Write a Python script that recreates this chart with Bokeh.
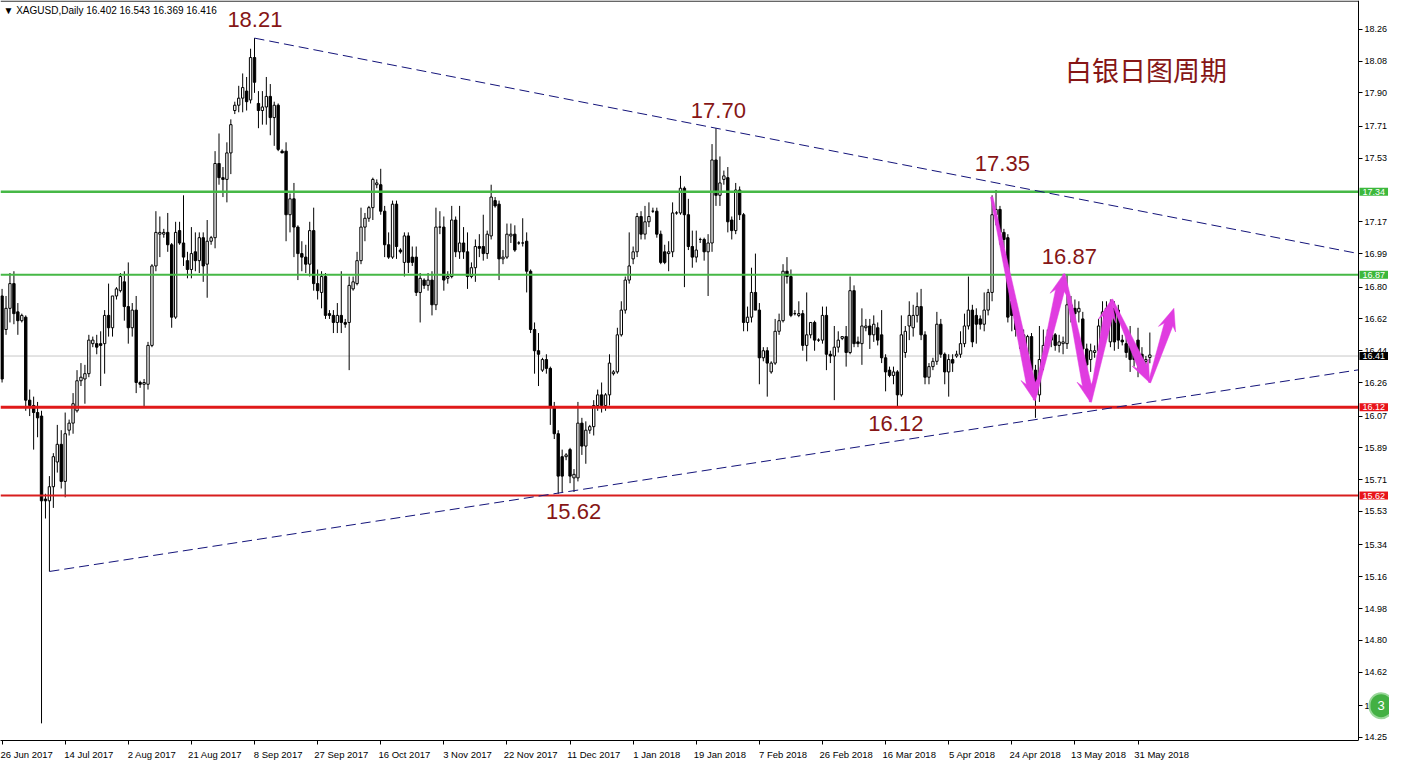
import math
from bokeh.plotting import figure
from bokeh.models import (Range1d, FixedTicker, Label, ColumnDataSource,
                          PrintfTickFormatter, LinearAxis)
from bokeh.core.properties import value
from bokeh.embed import file_html
from bokeh.resources import INLINE

# ---------------- data (XAGUSD daily candles) ----------------
opens = [
    16.75, 16.56, 16.68, 16.82, 16.66, 16.61, 16.63, 16.16, 16.13, 16.09,
    16.07, 15.60, 15.59, 15.67, 15.81, 15.91, 15.70, 15.99, 16.03, 16.10,
    16.27, 16.28, 16.31, 16.48, 16.48, 16.48, 16.48, 16.64, 16.57, 16.75,
    16.78, 16.83, 16.69, 16.57, 16.67, 16.26, 16.25, 16.25, 16.47, 16.92,
    17.10, 17.10, 17.11, 17.04, 16.63, 17.12, 17.05, 16.95, 16.90, 17.00,
    16.95, 17.08, 16.93, 17.06, 17.08, 17.50, 17.42, 17.41, 17.56, 17.80,
    17.83, 17.87, 17.91, 17.86, 18.10, 17.84, 17.80, 17.82, 17.88, 17.76,
    17.83, 17.57, 17.57, 17.21, 17.30, 17.14, 16.99, 16.97, 16.93, 17.12,
    16.82, 16.77, 16.86, 16.65, 16.64, 16.60, 16.64, 16.60, 16.60, 16.79,
    16.82, 16.95, 17.14, 17.19, 17.25, 17.38, 17.38, 17.23, 17.04, 16.97,
    17.27, 17.01, 16.94, 17.09, 16.97, 16.97, 16.77, 16.84, 16.81, 16.84,
    16.70, 17.14, 17.14, 16.85, 16.86, 17.18, 17.00, 17.05, 17.00, 16.86,
    16.91, 17.03, 17.03, 16.99, 17.09, 17.29, 17.27, 16.96, 16.97, 17.09,
    17.10, 17.05, 17.05, 17.06, 16.89, 16.56, 16.44, 16.33, 16.39, 16.34,
    16.12, 15.97, 15.84, 15.84, 15.88, 15.72, 15.72, 16.03, 15.90, 15.99,
    16.01, 16.13, 16.19, 16.13, 16.19, 16.31, 16.32, 16.53, 16.67, 16.84,
    16.96, 17.00, 17.20, 17.10, 17.17, 17.23, 17.23, 17.10, 17.00, 16.99,
    17.00, 17.22, 17.22, 17.36, 17.21, 17.03, 16.97, 17.07, 17.07, 17.00,
    17.05, 17.52, 17.32, 17.41, 17.42, 17.18, 17.12, 17.35, 17.21, 16.60,
    16.63, 16.77, 16.67, 16.40, 16.44, 16.32, 16.37, 16.55, 16.61, 16.89,
    16.86, 16.65, 16.64, 16.65, 16.47, 16.53, 16.60, 16.50, 16.50, 16.64,
    16.42, 16.41, 16.46, 16.51, 16.52, 16.43, 16.78, 16.49, 16.48, 16.57,
    16.58, 16.53, 16.57, 16.53, 16.40, 16.33, 16.30, 16.32, 16.19, 16.43,
    16.58, 16.57, 16.64, 16.69, 16.53, 16.29, 16.35, 16.38, 16.59, 16.42,
    16.32, 16.39, 16.41, 16.42, 16.48, 16.58, 16.67, 16.64, 16.62, 16.59,
    16.67, 16.77, 17.21, 17.24, 17.11, 17.08, 16.72, 16.64, 16.56, 16.53,
    16.42, 16.52, 16.33, 16.19, 16.39, 16.47, 16.50, 16.53, 16.47, 16.48,
    16.48, 16.70, 16.68, 16.66, 16.62, 16.45, 16.39, 16.43, 16.44, 16.54,
    16.68, 16.49, 16.68, 16.67, 16.50, 16.48, 16.47, 16.44, 16.50, 16.42,
    16.38, 16.402,
]
highs = [
    16.79, 16.75, 16.88, 16.89, 16.71, 16.65, 16.64, 16.22, 16.18, 16.15,
    16.10, 15.63, 15.73, 15.86, 16.02, 15.99, 16.09, 16.05, 16.20, 16.33,
    16.37, 16.36, 16.53, 16.52, 16.53, 16.55, 16.67, 16.82, 16.75, 16.80,
    16.88, 16.89, 16.94, 16.71, 16.75, 16.27, 16.28, 16.49, 16.93, 17.23,
    17.20, 17.13, 17.22, 17.05, 17.17, 17.17, 17.32, 17.00, 17.14, 17.11,
    17.11, 17.11, 17.18, 17.09, 17.57, 17.67, 17.48, 17.62, 17.75, 17.85,
    17.94, 18.01, 17.99, 18.15, 18.21, 17.91, 17.91, 17.99, 17.95, 17.85,
    17.84, 17.58, 17.62, 17.33, 17.39, 17.15, 17.06, 17.04, 17.17, 17.25,
    16.90, 16.89, 16.88, 16.67, 16.67, 16.71, 16.89, 16.62, 16.86, 16.86,
    17.00, 17.25, 17.22, 17.26, 17.42, 17.41, 17.47, 17.26, 17.11, 17.29,
    17.29, 17.02, 17.11, 17.11, 17.03, 17.03, 16.88, 16.85, 16.88, 16.89,
    17.25, 17.23, 17.20, 16.89, 17.26, 17.20, 17.26, 17.14, 17.11, 16.94,
    17.07, 17.10, 17.21, 17.12, 17.38, 17.31, 17.29, 17.01, 17.16, 17.16,
    17.15, 17.06, 17.19, 17.11, 16.90, 16.60, 16.54, 16.40, 16.42, 16.35,
    16.15, 15.99, 15.88, 15.86, 15.89, 15.77, 16.15, 16.06, 16.04, 16.02,
    16.16, 16.22, 16.26, 16.20, 16.42, 16.33, 16.57, 16.72, 16.86, 17.11,
    17.03, 17.22, 17.23, 17.26, 17.28, 17.25, 17.25, 17.12, 17.04, 17.06,
    17.28, 17.23, 17.43, 17.37, 17.30, 17.12, 17.12, 17.08, 17.08, 17.10,
    17.61, 17.70, 17.54, 17.46, 17.48, 17.20, 17.39, 17.37, 17.22, 16.69,
    16.91, 16.99, 16.71, 16.46, 16.46, 16.38, 16.62, 16.65, 16.93, 16.97,
    16.90, 16.67, 16.72, 16.67, 16.77, 16.60, 16.61, 16.51, 16.69, 16.69,
    16.44, 16.58, 16.55, 16.52, 16.58, 16.86, 16.81, 16.52, 16.68, 16.62,
    16.62, 16.64, 16.60, 16.67, 16.42, 16.35, 16.35, 16.33, 16.64, 16.58,
    16.72, 16.70, 16.77, 16.79, 16.55, 16.37, 16.40, 16.66, 16.62, 16.43,
    16.42, 16.42, 16.44, 16.55, 16.65, 16.86, 16.70, 16.68, 16.64, 16.77,
    16.79, 17.32, 17.35, 17.26, 17.13, 17.10, 16.75, 16.68, 16.58, 16.56,
    16.53, 16.54, 16.36, 16.58, 16.56, 16.56, 16.58, 16.54, 16.53, 16.52,
    16.87, 16.75, 16.73, 16.72, 16.66, 16.48, 16.48, 16.47, 16.62, 16.72,
    16.72, 16.73, 16.72, 16.70, 16.53, 16.55, 16.58, 16.47, 16.57, 16.46,
    16.41, 16.543,
]
lows = [
    16.26, 16.53, 16.60, 16.59, 16.53, 16.60, 16.10, 16.07, 15.88, 15.95,
    14.33, 15.49, 15.19, 15.55, 15.75, 15.66, 15.61, 15.96, 15.97, 16.09,
    16.24, 16.14, 16.29, 16.46, 16.42, 16.24, 16.31, 16.52, 16.52, 16.73,
    16.77, 16.61, 16.48, 16.52, 16.20, 16.23, 16.12, 16.22, 16.46, 16.89,
    16.97, 17.08, 17.00, 16.57, 16.62, 17.04, 16.92, 16.85, 16.85, 16.89,
    16.88, 16.83, 16.74, 17.04, 17.02, 17.38, 17.31, 17.28, 17.44, 17.78,
    17.79, 17.79, 17.80, 17.84, 17.90, 17.70, 17.72, 17.72, 17.66, 17.60,
    17.57, 17.56, 17.06, 17.11, 16.97, 16.84, 16.89, 16.88, 16.86, 16.78,
    16.73, 16.68, 16.62, 16.62, 16.54, 16.54, 16.54, 16.57, 16.33, 16.78,
    16.81, 16.93, 17.06, 17.17, 17.18, 17.36, 17.21, 16.97, 16.96, 16.96,
    16.96, 16.99, 16.86, 16.88, 16.92, 16.75, 16.60, 16.79, 16.78, 16.64,
    16.67, 17.10, 16.78, 16.82, 16.85, 16.97, 16.96, 16.96, 16.79, 16.85,
    16.83, 16.97, 16.95, 16.96, 17.07, 17.25, 16.84, 16.93, 16.96, 17.05,
    17.00, 17.04, 17.03, 16.77, 16.54, 16.31, 16.24, 16.32, 16.31, 16.02,
    15.94, 15.63, 15.64, 15.82, 15.69, 15.64, 15.70, 15.85, 15.80, 15.97,
    15.96, 16.10, 16.09, 16.10, 16.13, 16.30, 16.31, 16.52, 16.65, 16.82,
    16.93, 16.97, 17.07, 17.07, 17.14, 17.22, 17.08, 16.93, 16.93, 16.89,
    16.97, 17.21, 17.21, 16.80, 17.01, 16.91, 16.94, 17.05, 16.95, 16.75,
    17.00, 17.26, 17.26, 17.38, 17.11, 17.07, 17.10, 17.18, 16.55, 16.55,
    16.60, 16.74, 16.25, 16.38, 16.18, 16.31, 16.36, 16.53, 16.60, 16.82,
    16.63, 16.64, 16.63, 16.44, 16.38, 16.51, 16.44, 16.49, 16.48, 16.33,
    16.37, 16.16, 16.43, 16.50, 16.35, 16.42, 16.46, 16.46, 16.36, 16.55,
    16.45, 16.49, 16.47, 16.37, 16.21, 16.29, 16.25, 16.12, 16.18, 16.40,
    16.50, 16.52, 16.60, 16.50, 16.25, 16.25, 16.33, 16.36, 16.40, 16.25,
    16.18, 16.32, 16.40, 16.40, 16.46, 16.56, 16.46, 16.48, 16.56, 16.55,
    16.64, 16.72, 17.15, 17.04, 17.02, 16.60, 16.55, 16.52, 16.45, 16.38,
    16.39, 16.28, 16.06, 16.15, 16.33, 16.43, 16.46, 16.44, 16.43, 16.42,
    16.45, 16.60, 16.58, 16.60, 16.36, 16.28, 16.32, 16.40, 16.40, 16.50,
    16.58, 16.46, 16.44, 16.45, 16.47, 16.40, 16.32, 16.35, 16.29, 16.33,
    16.36, 16.369,
]
closes = [
    16.28, 16.68, 16.82, 16.65, 16.61, 16.64, 16.16, 16.13, 16.09, 16.06,
    15.59, 15.59, 15.67, 15.84, 15.91, 15.70, 15.97, 16.03, 16.14, 16.27,
    16.29, 16.31, 16.50, 16.50, 16.46, 16.47, 16.64, 16.57, 16.75, 16.79,
    16.86, 16.69, 16.57, 16.67, 16.26, 16.25, 16.26, 16.47, 16.92, 17.11,
    17.11, 17.11, 17.04, 16.63, 17.11, 17.05, 16.97, 16.90, 16.99, 16.95,
    17.08, 16.92, 17.06, 17.08, 17.50, 17.42, 17.41, 17.56, 17.72, 17.83,
    17.87, 17.93, 17.85, 18.10, 17.96, 17.80, 17.82, 17.88, 17.76, 17.83,
    17.58, 17.56, 17.21, 17.30, 17.14, 16.99, 16.97, 16.93, 17.12, 16.82,
    16.78, 16.86, 16.64, 16.64, 16.60, 16.64, 16.60, 16.59, 16.81, 16.83,
    16.95, 17.14, 17.19, 17.25, 17.41, 17.39, 17.23, 17.04, 16.97, 17.27,
    17.03, 17.00, 17.09, 16.94, 16.94, 16.77, 16.85, 16.81, 16.84, 16.70,
    17.14, 17.14, 16.84, 16.86, 17.18, 17.00, 17.05, 17.00, 16.86, 16.91,
    17.03, 17.02, 16.99, 17.10, 17.31, 17.26, 16.96, 16.97, 17.10, 17.10,
    17.01, 17.05, 17.05, 16.89, 16.56, 16.44, 16.42, 16.39, 16.34, 16.12,
    15.97, 15.73, 15.73, 15.85, 15.73, 15.74, 16.03, 15.90, 15.99, 16.01,
    16.13, 16.19, 16.13, 16.19, 16.37, 16.32, 16.53, 16.67, 16.84, 16.92,
    17.00, 17.20, 17.10, 17.17, 17.20, 17.23, 17.10, 16.94, 16.94, 17.00,
    17.22, 17.22, 17.36, 17.21, 17.03, 16.97, 17.01, 17.07, 17.00, 17.05,
    17.52, 17.32, 17.39, 17.43, 17.17, 17.12, 17.35, 17.21, 16.60, 16.63,
    16.77, 16.67, 16.40, 16.44, 16.37, 16.37, 16.55, 16.61, 16.89, 16.86,
    16.64, 16.65, 16.65, 16.47, 16.53, 16.60, 16.50, 16.50, 16.64, 16.42,
    16.41, 16.46, 16.50, 16.52, 16.43, 16.78, 16.48, 16.48, 16.58, 16.58,
    16.53, 16.59, 16.50, 16.40, 16.32, 16.30, 16.32, 16.19, 16.53, 16.55,
    16.64, 16.64, 16.69, 16.53, 16.29, 16.35, 16.38, 16.59, 16.42, 16.32,
    16.39, 16.37, 16.42, 16.48, 16.58, 16.67, 16.49, 16.59, 16.59, 16.67,
    16.77, 17.21, 17.24, 17.11, 17.07, 16.63, 16.64, 16.56, 16.52, 16.42,
    16.52, 16.33, 16.19, 16.39, 16.47, 16.52, 16.54, 16.47, 16.49, 16.49,
    16.70, 16.67, 16.65, 16.68, 16.45, 16.36, 16.44, 16.44, 16.58, 16.66,
    16.63, 16.68, 16.49, 16.50, 16.49, 16.43, 16.39, 16.39, 16.42, 16.39,
    16.39, 16.416,
]
bar_index = list(range(len(opens)))

date_tick_bars = [0, 16, 32, 48, 64, 80, 96, 112, 128, 144, 160, 176, 192, 208, 224, 240, 256, 272, 288]
date_tick_labels = ["26 Jun 2017", "14 Jul 2017", "2 Aug 2017", "21 Aug 2017", "8 Sep 2017",
                    "27 Sep 2017", "16 Oct 2017", "3 Nov 2017", "22 Nov 2017", "11 Dec 2017",
                    "1 Jan 2018", "19 Jan 2018", "7 Feb 2018", "26 Feb 2018", "16 Mar 2018",
                    "5 Apr 2018", "24 Apr 2018", "13 May 2018", "31 May 2018"]

price_ticks = [18.26, 18.08, 17.90, 17.71, 17.53, 17.17, 16.99, 16.80, 16.62, 16.44, 16.26,
               16.07, 15.89, 15.71, 15.53, 15.34, 15.16, 14.98, 14.80, 14.62, 14.43, 14.25]

green_levels = [17.34, 16.87]
red_levels = [16.12, 15.62]
last_price = 16.41

upper_trend_x = [64, 181]
upper_trend_y = [18.21, 17.70]
lower_trend_x = [12, 262]
lower_trend_y = [15.19, 16.05]

note_x = [64.1, 181.6, 253.6, 270.6, 226.6, 144.9]
note_y = [18.313, 17.80, 17.50, 16.975, 16.03, 15.53]
note_text = ["18.21", "17.70", "17.35", "16.87", "16.12", "15.62"]

title_x = [290.0]
title_y = [18.03]
title_text = ["白银日图周期"]

zig_x = [250.9, 261.7, 269.2, 275.9, 281.3, 290.9, 297.1]
zig_y = [17.31, 16.16, 16.875, 16.15, 16.73, 16.26, 16.68]

# ---------------- figure ----------------
X0, X1 = -0.4, 343.9          # chart area (price scale sits right of X1)
Y0, Y1 = 14.233, 18.423
PW, AXW, FH = 1358, 31, 740   # chart width, price-scale width, height (pixels)
sx = PW / (X1 - X0)
sy = FH / (Y1 - Y0)
XF = X1 + AXW / sx            # frame also holds the price scale

p = figure(frame_width=PW + AXW, frame_height=FH, x_range=Range1d(X0, XF), y_range=Range1d(Y0, Y1),
           output_backend="svg", toolbar_location=None, y_axis_location=None,
           min_border_left=0, min_border_top=0, min_border_right=0, min_border_bottom=0)
p.grid.visible = False
p.outline_line_color = None
p.background_fill_color = "white"
p.border_fill_color = "white"

LABEL_SHIFT = 6
xt = [b + LABEL_SHIFT for b in date_tick_bars]
p.xaxis.ticker = FixedTicker(ticks=xt, minor_ticks=date_tick_bars)
p.xaxis.major_label_overrides = {t: lab for t, lab in zip(xt, date_tick_labels)}
p.xaxis.bounds = (X0, X1)
p.xaxis.major_tick_out = 0
p.xaxis.major_tick_in = 0
p.xaxis.minor_tick_out = 4
p.xaxis.minor_tick_in = 0
p.xaxis.minor_tick_line_color = "black"
p.xaxis.axis_line_color = "black"
p.xaxis.major_label_text_font = "Liberation Sans"
p.xaxis.major_label_text_font_size = "9.5px"
p.xaxis.major_label_text_color = "black"
p.xaxis.major_label_standoff = 4

yax = LinearAxis(fixed_location=X1, ticker=FixedTicker(ticks=price_ticks),
                 formatter=PrintfTickFormatter(format="%.2f"))
yax.major_tick_out = 4
yax.major_tick_in = 0
yax.minor_tick_out = 0
yax.minor_tick_in = 0
yax.axis_line_color = "black"
yax.major_label_text_font = "Liberation Sans"
yax.major_label_text_font_size = "9px"
yax.major_label_text_color = "black"
yax.major_label_standoff = 2
p.add_layout(yax, "right")

# top border of the chart area
p.segment(x0=[X0], y0=[Y1 - 0.6 / sy], x1=[X1], y1=[Y1 - 0.6 / sy], line_color="black", line_width=1)

# current price line (behind the candles)
p.segment(x0=[X0], y0=[last_price], x1=[X1], y1=[last_price], line_color="#c8c8c8", line_width=1,
          level="underlay")

# candles
top = [max(o, c) for o, c in zip(opens, closes)]
bottom = [min(o, c) for o, c in zip(opens, closes)]
fill = ["white" if c >= o else "black" for o, c in zip(opens, closes)]
src = ColumnDataSource(dict(x=bar_index, h=highs, l=lows, top=top, bottom=bottom, fill=fill))
p.segment(x0="x", y0="h", x1="x", y1="l", source=src, line_color="black", line_width=1)
p.vbar(x="x", top="top", bottom="bottom", width=0.6, fill_color="fill", line_color="black",
       line_width=1, source=src)

# horizontal levels
for lvl, col, w in [(green_levels[0], "#46b846", 2.5), (green_levels[1], "#46b846", 2),
                    (red_levels[0], "#e01a1a", 3), (red_levels[1], "#d81e1e", 2)]:
    p.segment(x0=[X0], y0=[lvl], x1=[X1], y1=[lvl], line_color=col, line_width=w)

# trend lines (rays to the right edge of the chart area)
def ray(xs, ys, x_end):
    slope = (ys[1] - ys[0]) / (xs[1] - xs[0])
    return [xs[0], x_end], [ys[0], ys[0] + slope * (x_end - xs[0])]

ux, uy = ray(upper_trend_x, upper_trend_y, X1)
lx, ly = ray(lower_trend_x, lower_trend_y, X1)
p.line(ux, uy, line_color="#14147a", line_width=1, line_dash="10 5")
p.line(lx, ly, line_color="#14147a", line_width=1, line_dash="10 5")

# magenta zigzag arrows (tapered strokes with arrowheads), geometry in screen pixels
def arrow_polygon(xa, ya, xb, yb):
    ax, ay, bx, by = xa * sx, ya * sy, xb * sx, yb * sy
    dx, dy = bx - ax, by - ay
    L = math.hypot(dx, dy)
    ux_, uy_ = dx / L, dy / L
    nx, ny = -uy_, ux_
    hl, hw, notch, w0, w1 = 22.0, 9.0, 5.0, 1.2, 4.5
    bbx, bby = bx - ux_ * hl, by - uy_ * hl
    npx, npy = bx - ux_ * (hl - notch), by - uy_ * (hl - notch)
    pts = [(ax + nx * w0, ay + ny * w0), (npx + nx * w1, npy + ny * w1),
           (bbx + nx * hw, bby + ny * hw), (bx, by), (bbx - nx * hw, bby - ny * hw),
           (npx - nx * w1, npy - ny * w1), (ax - nx * w0, ay - ny * w0)]
    return [q[0] / sx for q in pts], [q[1] / sy for q in pts]

polys_x, polys_y = [], []
for i in range(len(zig_x) - 1):
    px_, py_ = arrow_polygon(zig_x[i], zig_y[i], zig_x[i + 1], zig_y[i + 1])
    polys_x.append(px_)
    polys_y.append(py_)
p.patches(polys_x, polys_y, fill_color="#e03ce0", line_color="#e03ce0", line_width=0.5)

# price notes
p.text(x=note_x, y=note_y, text=note_text, text_font=value("Liberation Sans"), text_font_size="22px",
       text_color="#861616", text_align="center", text_baseline="middle")
p.text(x=title_x, y=title_y, text=title_text, text_font=value("Noto Sans CJK SC"), text_font_size="27px",
       text_color="#861616", text_align="center", text_baseline="middle")

# header
header = "\u25bc XAGUSD,Daily  %.3f %.3f %.3f %.3f" % (opens[-1], highs[-1], lows[-1], closes[-1])
p.text(x=[X0 + 3 / sx], y=[Y1 - 10 / sy], text=[header], text_font=value("Liberation Sans"),
       text_font_size="10px", text_color="black", text_align="left", text_baseline="middle")

# highlighted price boxes on the price scale
for lvl, col in [(green_levels[0], "#3cb83c"), (green_levels[1], "#3cb83c"), (last_price, "black"),
                 (red_levels[0], "#e8141a"), (red_levels[1], "#e8141a")]:
    p.add_layout(Label(x=X1, y=lvl, x_offset=1, text="%.2f" % lvl, text_font="Liberation Sans",
                       text_font_size="9px", text_color="white", background_fill_color=col,
                       text_align="left", text_baseline="middle", padding=(3, 1)))

# green badge at bottom-right (partly hidden at the edge, as in the original)
p.add_layout(Label(x=X1, y=14.43, x_offset=11, text="3", text_font="Liberation Sans",
                   text_font_size="13px", text_color="white", background_fill_color="#43b043",
                   border_line_color="#9ad79a", border_line_width=2,
                   text_align="left", text_baseline="middle", padding=8, border_radius=16))

open("out.html", "w").write(file_html(p, INLINE))
